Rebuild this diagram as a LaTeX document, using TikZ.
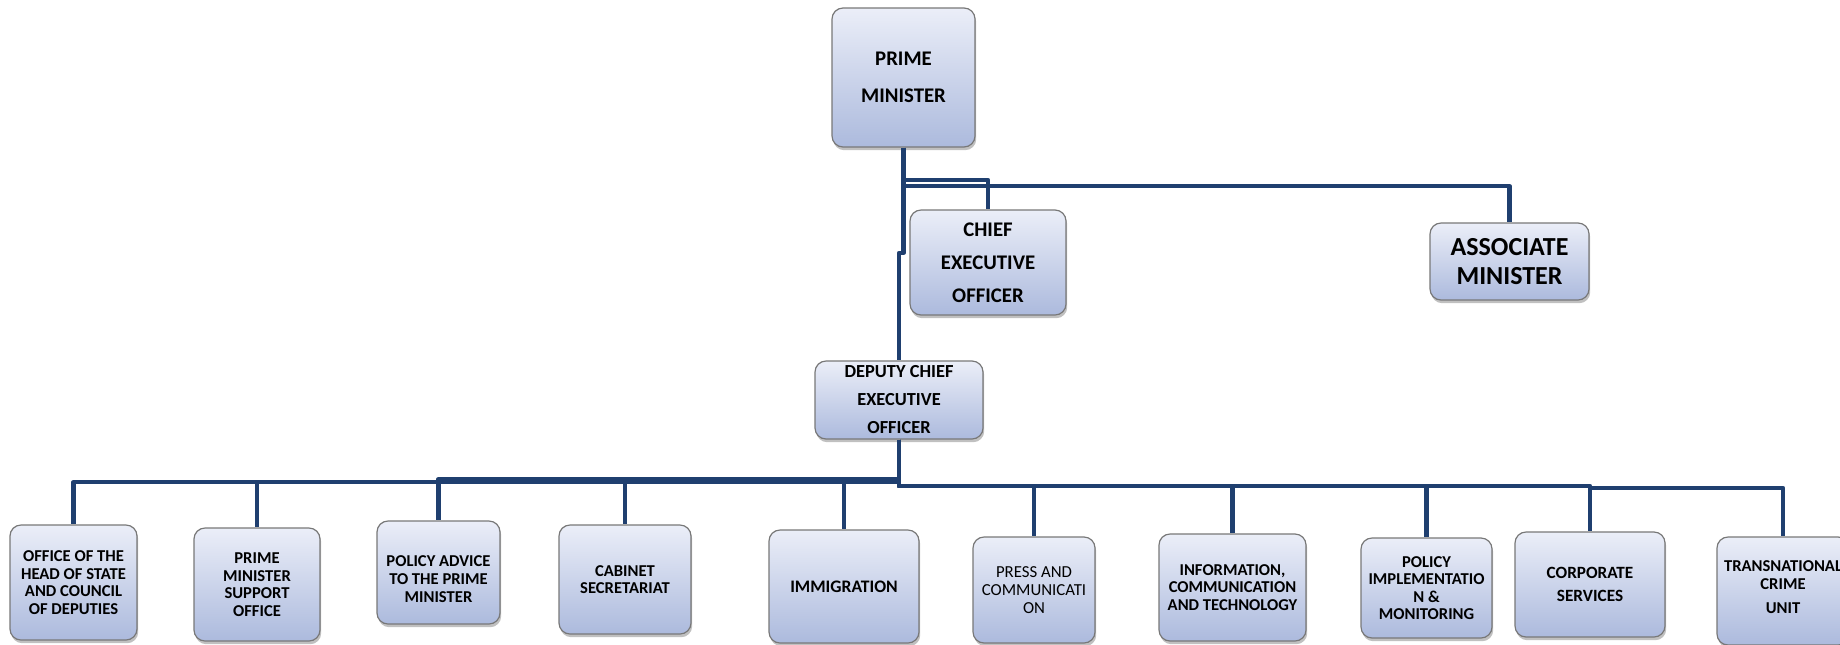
\documentclass[tikz,border=0pt]{standalone}
\usepackage{fontspec}
\setmainfont{Carlito}
\usetikzlibrary{shadows}
\definecolor{navy}{RGB}{31,63,111}
\definecolor{boxtop}{RGB}{235,238,248}
\definecolor{boxbot}{RGB}{172,186,221}
\definecolor{boxline}{RGB}{120,120,120}
\tikzset{
  orgbox/.style={draw=boxline, line width=0.6pt, rounded corners=5.5pt,
    top color=boxtop, bottom color=boxbot, inner sep=0pt, align=center,
    drop shadow={shadow xshift=0.6pt, shadow yshift=-1.6pt, opacity=0.35, fill=black!70}},
  bigfont/.style={font={\fontsize{10.4}{18.5}\selectfont\bfseries}},
  ceofont/.style={font={\fontsize{10.4}{16.5}\selectfont\bfseries}},
  assocfont/.style={font={\fontsize{13}{14.5}\selectfont\bfseries}},
  dceofont/.style={font={\fontsize{9.2}{14}\selectfont\bfseries}},
  smallfont/.style={font={\fontsize{8.3}{8.8}\selectfont\bfseries}},
  link/.style={draw=navy, line width=2.1pt, line join=round}
}
\begin{document}
\begin{tikzpicture}[x=0.5pt, y=-0.5pt]
\clip (0,0) rectangle (1840,644);
\fill[white] (0,0) rectangle (1840,644);

% top level
\node[orgbox, bigfont, minimum width=71.5pt, minimum height=69.5pt] (pm) at (903.5,77.5) {PRIME\\MINISTER};
\node[orgbox, ceofont, minimum width=78pt, minimum height=52.5pt] (ceo) at (988,262.5) {CHIEF\\EXECUTIVE\\OFFICER};
\node[orgbox, assocfont, minimum width=79.5pt, minimum height=38.5pt] (assoc) at (1509.5,261.5) {ASSOCIATE\\MINISTER};
\node[orgbox, dceofont, minimum width=84pt, minimum height=39pt] (dceo) at (899,400) {DEPUTY CHIEF\\EXECUTIVE\\OFFICER};

% bottom level
\node[orgbox, smallfont, minimum width=63.5pt, minimum height=57.5pt] (b1) at (73.5,582.5) {OFFICE OF THE\\HEAD OF STATE\\AND COUNCIL\\OF DEPUTIES};
\node[orgbox, smallfont, minimum width=63pt, minimum height=56.5pt] (b2) at (257,584.5) {PRIME\\MINISTER\\SUPPORT\\OFFICE};
\node[orgbox, smallfont, minimum width=61.5pt, minimum height=51.5pt] (b3) at (438.5,572.5) {\rule{0pt}{12pt}POLICY ADVICE\\TO THE PRIME\\MINISTER};
\node[orgbox, smallfont, minimum width=66pt, minimum height=54.5pt] (b4) at (625,579.5) {CABINET\\SECRETARIAT};
\node[orgbox, font={\fontsize{8.8}{9.5}\selectfont\bfseries}, minimum width=75pt, minimum height=56.5pt] (b5) at (844,586.5) {IMMIGRATION};
\node[orgbox, font={\fontsize{8.4}{8.8}\selectfont}, minimum width=61pt, minimum height=53pt] (b6) at (1034,590) {PRESS AND\\COMMUNICATI\\ON};
\node[orgbox, smallfont, minimum width=73.5pt, minimum height=53.5pt] (b7) at (1232.5,587.5) {INFORMATION,\\COMMUNICATION\\AND TECHNOLOGY};
\node[orgbox, smallfont, minimum width=65.5pt, minimum height=50pt] (b8) at (1426.5,588) {POLICY\\IMPLEMENTATIO\\N \&\\MONITORING};
\node[orgbox, font={\fontsize{8.6}{11.5}\selectfont\bfseries}, minimum width=75pt, minimum height=52.5pt] (b9) at (1590,584.5) {CORPORATE\\SERVICES};
\node[orgbox, smallfont, minimum width=66pt, minimum height=54pt] (b10) at (1783,591) {TRANSNATIONAL\\CRIME\\[3pt]UNIT\rule[-4pt]{0pt}{4pt}};

% connectors, upper part
\draw[link] (pm.south) -- (903.5,180) -| (ceo.north);
\draw[link] (903.5,186) -| (assoc.north);
\draw[link] (pm.south) -- (903.5,253) -| (dceo.north);

% connectors, lower part
\draw[link] (dceo.south) |- (b1.north |- 0,482) -- (b1.north);
\draw[link] (dceo.south) |- (b2.north |- 0,482) -- (b2.north);
\draw[link] (dceo.south) |- (b3.north |- 0,479) -- (b3.north);
\draw[link] (dceo.south) |- (b4.north |- 0,480) -- (b4.north);
\draw[link] (dceo.south) |- (b5.north |- 0,480) -- (b5.north);
\draw[link] (dceo.south) |- (b6.north |- 0,486) -- (b6.north);
\draw[link] (dceo.south) |- (b7.north |- 0,486) -- (b7.north);
\draw[link] (dceo.south) |- (b8.north |- 0,486) -- (b8.north);
\draw[link] (dceo.south) |- (b9.north |- 0,486) -- (b9.north);
\draw[link] (b9.north |- 0,488) -| (b10.north);
\end{tikzpicture}
\end{document}
